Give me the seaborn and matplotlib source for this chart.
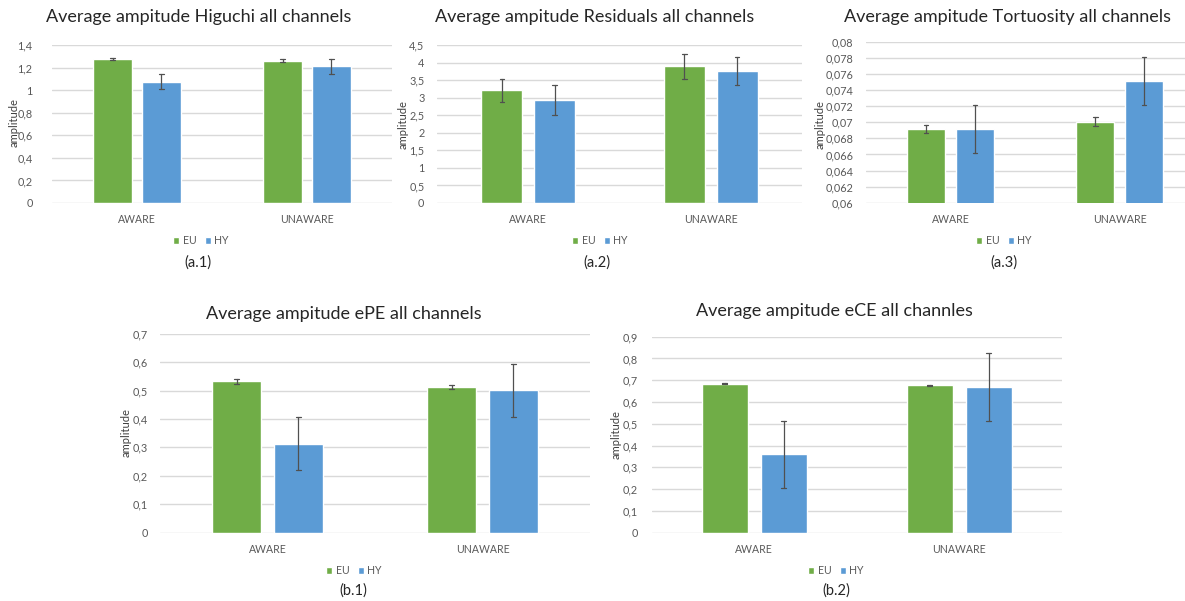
import matplotlib
matplotlib.use("Agg")
import matplotlib.pyplot as plt
import seaborn as sns
import pandas as pd
import numpy as np
from matplotlib.patches import Patch

# ---------------- data ----------------
conditions = ["AWARE", "UNAWARE"]
groups = ["EU", "HY"]

higuchi_eu = [1.278, 1.262]
higuchi_eu_err = [0.010, 0.010]
higuchi_hy = [1.075, 1.212]
higuchi_hy_err = [0.066, 0.066]

residuals_eu = [3.21, 3.89]
residuals_eu_err = [0.33, 0.35]
residuals_hy = [2.94, 3.76]
residuals_hy_err = [0.42, 0.41]

tortuosity_eu = [0.06914, 0.07010]
tortuosity_eu_err = [0.00048, 0.00052]
tortuosity_hy = [0.06915, 0.07515]
tortuosity_hy_err = [0.00300, 0.00297]

epe_eu = [0.532, 0.513]
epe_eu_err = [0.009, 0.008]
epe_hy = [0.313, 0.501]
epe_hy_err = [0.094, 0.094]

ece_eu = [0.684, 0.676]
ece_eu_err = [0.003, 0.003]
ece_hy = [0.360, 0.669]
ece_hy_err = [0.155, 0.155]

titles = ["Average ampitude Higuchi all channels",
          "Average ampitude Residuals all channels",
          "Average ampitude Tortuosity all channels",
          "Average ampitude ePE all channels",
          "Average ampitude eCE all channles"]
sublabels = ["(a.1)", "(a.2)", "(a.3)", "(b.1)", "(b.2)"]
yticks_list = [
    [0, 0.2, 0.4, 0.6, 0.8, 1, 1.2, 1.4],
    [0, 0.5, 1, 1.5, 2, 2.5, 3, 3.5, 4, 4.5],
    [0.06, 0.062, 0.064, 0.066, 0.068, 0.07, 0.072, 0.074, 0.076, 0.078, 0.08],
    [0, 0.1, 0.2, 0.3, 0.4, 0.5, 0.6, 0.7],
    [0, 0.1, 0.2, 0.3, 0.4, 0.5, 0.6, 0.7, 0.8, 0.9],
]
ytick_labels = [
    ["0", "0,2", "0,4", "0,6", "0,8", "1", "1,2", "1,4"],
    ["0", "0,5", "1", "1,5", "2", "2,5", "3", "3,5", "4", "4,5"],
    ["0,06", "0,062", "0,064", "0,066", "0,068", "0,07", "0,072", "0,074", "0,076", "0,078", "0,08"],
    ["0", "0,1", "0,2", "0,3", "0,4", "0,5", "0,6", "0,7"],
    ["0", "0,1", "0,2", "0,3", "0,4", "0,5", "0,6", "0,7", "0,8", "0,9"],
]

panels = [
    (higuchi_eu, higuchi_eu_err, higuchi_hy, higuchi_hy_err),
    (residuals_eu, residuals_eu_err, residuals_hy, residuals_hy_err),
    (tortuosity_eu, tortuosity_eu_err, tortuosity_hy, tortuosity_hy_err),
    (epe_eu, epe_eu_err, epe_hy, epe_hy_err),
    (ece_eu, ece_eu_err, ece_hy, ece_hy_err),
]

# ---------------- layout (pixels) ----------------
W, H = 1185, 601
rects = [
    (52, 45, 392, 203, (-0.5, 1.5)),
    (437, 45, 802, 203, (-0.5, 1.5)),
    (866, 42, 1185, 202.7, (-0.5, 1.385)),
    (160, 333.7, 590, 532.7, (-0.5, 1.5)),
    (651.7, 336.7, 1061.7, 532.7, (-0.5, 1.5)),
]
title_pos = [(199, 17), (595, 17), (1007, 17), (344, 314), (834, 311)]
legend_pos = [(201, 241), (600, 241), (1004, 241), (354, 571), (836, 571)]
sub_pos = [(198, 263), (597, 263), (1004, 263), (353, 591), (836, 591)]
ylab_pos = [(14, 123), (403, 125), (820, 125), (126, 433), (616, 435)]
tick_pad = [14, 9, 9, 9, 10]

sns.set_theme(style="white")
plt.rcParams["font.family"] = ["Lato", "DejaVu Sans"]

GREEN = "#70AD47"
BLUE = "#5B9BD5"
GRID = "#D9D9D9"
TXT = "#595959"

fig = plt.figure(figsize=(W / 100, H / 100), dpi=100)
fig.patch.set_facecolor("white")

for i, (eu, eu_e, hy, hy_e) in enumerate(panels):
    rows = []
    for c, m, e in zip(conditions, eu, eu_e):
        rows.append((c, "EU", m - e))
        rows.append((c, "EU", m + e))
    for c, m, e in zip(conditions, hy, hy_e):
        rows.append((c, "HY", m - e))
        rows.append((c, "HY", m + e))
    df = pd.DataFrame(rows, columns=["condition", "group", "value"])

    l, t, r, b, xl = rects[i]
    ax = fig.add_axes([l / W, 1 - b / H, (r - l) / W, (b - t) / H])
    sns.barplot(data=df, x="condition", y="value", hue="group",
                order=conditions, hue_order=groups,
                palette=[GREEN, BLUE], estimator="mean",
                errorbar=lambda v: (v.min(), v.max()),
                width=0.576, gap=0.22, saturation=1,
                capsize=0.05, err_kws={"color": "#505050", "linewidth": 0.9},
                legend=False, ax=ax)
    yt = yticks_list[i]
    ax.set_ylim(yt[0], yt[-1])
    ax.set_xlim(*xl)
    ax.set_yticks(yt)
    ax.set_yticklabels(ytick_labels[i], fontsize=7.8, color=TXT)
    ax.tick_params(axis="y", length=0, pad=tick_pad[i])
    ax.tick_params(axis="x", length=0, pad=8, labelsize=7.6, labelcolor=TXT)
    for s in ax.spines.values():
        s.set_visible(False)
    ax.grid(axis="y", color=GRID, linewidth=1.0)
    ax.set_axisbelow(True)
    ax.set_xlabel("")
    ax.set_ylabel("")

    tx, ty = title_pos[i]
    fig.text(tx / W, 1 - ty / H, titles[i], ha="center", va="center",
             fontsize=13.0, color="#262626")
    lx, ly = ylab_pos[i]
    fig.text(lx / W, 1 - ly / H, "amplitude", rotation=90, ha="center", va="center",
             fontsize=8, color="#404040")
    sx, sy = sub_pos[i]
    fig.text(sx / W, 1 - sy / H, sublabels[i], ha="center", va="center",
             fontsize=10.5, color="#262626")
    gx, gy = legend_pos[i]
    handles = [Patch(facecolor=GREEN, label="EU"), Patch(facecolor=BLUE, label="HY")]
    fig.legend(handles=handles, loc="center", bbox_to_anchor=(gx / W, 1 - gy / H),
               ncol=2, frameon=False, fontsize=7.6, handlelength=0.6, handleheight=0.6,
               handletextpad=0.3, columnspacing=0.8, labelcolor=TXT)

fig.savefig("out.png", dpi=100, facecolor="white")
